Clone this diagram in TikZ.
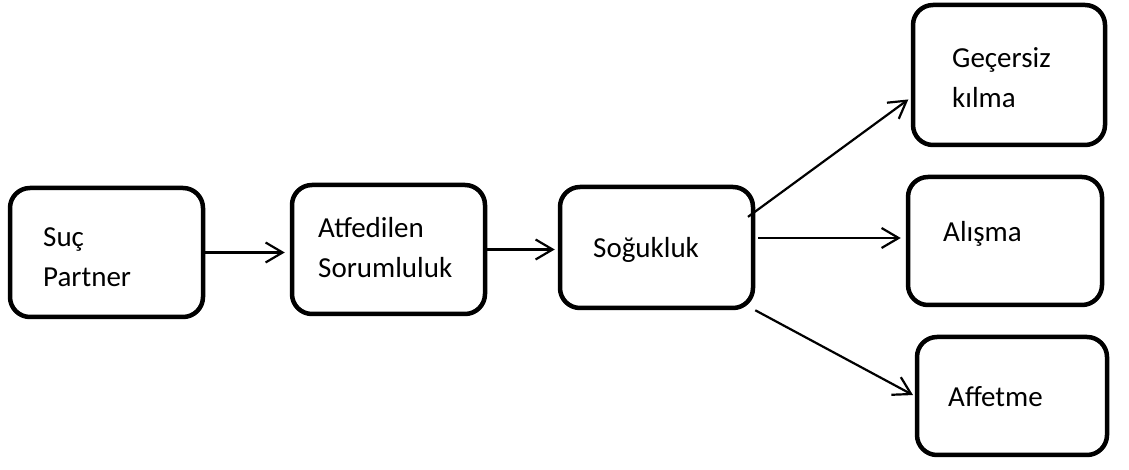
\documentclass[tikz,border=0pt]{standalone}
\usepackage{fontspec}
\setmainfont{Carlito}
\usetikzlibrary{arrows.meta}

\begin{document}
\begin{tikzpicture}
[
    x=1pt, y=1pt,
    box/.style={draw, line width=4.5pt, rounded corners=20pt},
    txt/.style={anchor=base west, inner sep=0pt, align=left, font=\fontsize{29}{40}\selectfont},
    arr/.style={line width=2.2pt, -{Straight Barb[length=17pt,width=20pt,line width=2.2pt]}},
]
\useasboundingbox (0,0) rectangle (1129,470);
% boxes
\node [box, minimum width=193, minimum height=129] (suc) at (106.5,217.5) {};
\node [box, minimum width=193, minimum height=129] (atf) at (388.5,220.5) {};
\node [box, minimum width=193, minimum height=121] (sog) at (656.5,222.5) {};
\node [box, minimum width=192, minimum height=140] (gec) at (1009,395) {};
\node [box, minimum width=194, minimum height=128] (ali) at (1005,229) {};
\node [box, minimum width=190, minimum height=118] (aff) at (1012,74) {};
% texts (base = last line)
\node [txt] (suc-t) at (43,183) {Suç\\Partner};
\node [txt] (atf-t) at (318,192) {Atfedilen\\Sorumluluk};
\node [txt] (sog-t) at (593,212) {Soğukluk};
\node [txt] (gec-t) at (952,362) {Geçersiz\\kılma};
\node [txt] (ali-t) at (943,228) {Alışma};
\node [txt] (aff-t) at (948,63) {Affetme};
% arrows
\draw [arr, shorten >=5pt] (suc.east) -- (suc.east -| atf.west);
\draw [arr, shorten >=3pt] (atf.east) -- (atf.east -| sog.west);
\draw [arr, shorten <=-9pt, shorten >=3pt] (sog.20) -- (gec.193);
\draw [arr, shorten <=3pt, shorten >=5pt] ([yshift=3pt]sog.east |- ali.west) -- ([yshift=3pt]ali.west);
\draw [arr, shorten >=2pt] (sog.south east) -- (aff.west);
\end{tikzpicture}
\end{document}
